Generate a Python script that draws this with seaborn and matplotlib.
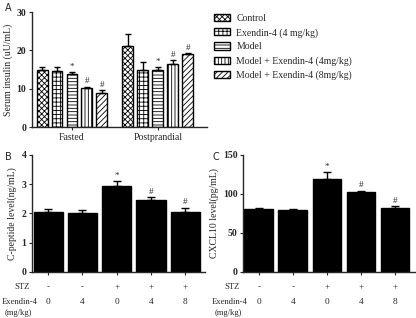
import numpy as np
import pandas as pd
import matplotlib.pyplot as plt
import matplotlib.transforms as mtransforms
import seaborn as sns
from matplotlib.patches import Patch

sns.set_style("ticks")
plt.rcParams['font.family'] = ['Liberation Serif', 'DejaVu Serif']
plt.rcParams['hatch.linewidth'] = 0.6

# Panel A data: serum insulin (mean and SEM)
conditions = ['Control', 'Exendin-4 (4 mg/kg)', 'Model',
              'Model + Exendin-4 (4mg/kg)', 'Model + Exendin-4 (8mg/kg)']
states = ['Fasted', 'Postprandial']
insulin_fasted = [14.8, 14.7, 13.8, 10.3, 9.0]
insulin_fasted_err = [0.8, 1.1, 0.6, 0.3, 0.6]
insulin_post = [21.1, 15.0, 14.8, 16.5, 19.1]
insulin_post_err = [3.1, 2.1, 0.8, 1.0, 0.3]
insulin_marks = ['', '', '*', '#', '#']
hatches = ['xxxxxx', '++++', '-----', '|||||', '//////']

# Panels B and C data
groups = ['Control', 'Exendin-4', 'Model', 'Model+Ex4', 'Model+Ex8']
cpeptide = [2.06, 2.03, 2.93, 2.47, 2.06]
cpeptide_err = [0.09, 0.09, 0.16, 0.08, 0.13]
cxcl10 = [80.6, 79.5, 119.0, 103.0, 82.5]
cxcl10_err = [1.3, 1.2, 9.0, 0.8, 1.5]
marks = ['', '', '*', '#', '#']
stz = ['-', '-', '+', '+', '+']
exendin_dose = ['0', '4', '0', '4', '8']

fig = plt.figure(figsize=(4.16, 3.18), dpi=100)
axA = fig.add_axes([0.077, 0.600, 0.420, 0.362])
axB = fig.add_axes([0.077, 0.145, 0.416, 0.368])
axC = fig.add_axes([0.584, 0.145, 0.413, 0.368])

fs = 7
fs_row = 6.2

# ---- Panel A ----
dfA = pd.DataFrame({
    'state': np.repeat(states, len(conditions)),
    'condition': conditions * 2,
    'value': insulin_fasted + insulin_post,
})
sns.barplot(data=dfA, x='state', y='value', hue='condition', order=states,
            hue_order=conditions, errorbar=None, width=0.87, gap=0.27,
            color='white', edgecolor='black', linewidth=1.0, legend=False, ax=axA)
errsA = [insulin_fasted_err, insulin_post_err]
for i, patch in enumerate(axA.patches):
    ci, gi = divmod(i, 2)
    patch.set_facecolor('white')
    patch.set_hatch(hatches[ci])
    x = patch.get_x() + patch.get_width() / 2
    h = patch.get_height()
    e = errsA[gi][ci]
    axA.errorbar(x, h, yerr=[[0], [e]], fmt='none', ecolor='black',
                 elinewidth=1.0, capsize=2.5, capthick=1.0)
    if insulin_marks[ci]:
        axA.text(x, h + e + 0.3, insulin_marks[ci], ha='center', va='bottom',
                 fontsize=6.5)
axA.set_ylim(0, 30)
axA.set_yticks([0, 10, 20, 30])
axA.set_xlim(-0.465, 1.57)
axA.set_xlabel('')
axA.set_ylabel('Serum insulin (uU/mL)', fontsize=fs, labelpad=3)
axA.tick_params(labelsize=fs, length=2.5, width=0.8, pad=1.5)
for lbl in axA.get_yticklabels():
    lbl.set_fontweight('bold')

handles = [Patch(facecolor='white', edgecolor='black', hatch=h, linewidth=1.0)
           for h in hatches]
fig.legend(handles, conditions, loc='upper left', bbox_to_anchor=(0.505, 0.968),
           frameon=False, fontsize=fs, handlelength=1.6, handleheight=0.75,
           labelspacing=0.5, handletextpad=0.7, borderaxespad=0)


def black_panel(ax, values, errs, ymax, yticks, ylabel, off, left_edge):
    sns.barplot(x=groups, y=values, order=groups, color='black', errorbar=None,
                width=0.85, saturation=1, edgecolor='black', ax=ax)
    for i, patch in enumerate(ax.patches):
        x = patch.get_x() + patch.get_width() / 2
        h = patch.get_height()
        ax.errorbar(x, h, yerr=[[0], [errs[i]]], fmt='none', ecolor='black',
                    elinewidth=1.0, capsize=3, capthick=1.0)
        if marks[i]:
            ax.text(x, h + errs[i] + off, marks[i], ha='center', va='bottom',
                    fontsize=6.5)
    ax.set_ylim(0, ymax)
    ax.set_yticks(yticks)
    ax.set_xlim(-0.47, 4.58)
    ax.set_xticks(range(len(groups)))
    ax.set_xticklabels([])
    ax.set_ylabel(ylabel, fontsize=fs, labelpad=3)
    ax.tick_params(labelsize=fs, length=2.5, width=0.8, pad=1.5)
    for lbl in ax.get_yticklabels():
        lbl.set_fontweight('bold')
    tr = ax.get_xaxis_transform()
    for i in range(len(groups)):
        ax.text(i, -0.13, stz[i], transform=tr, ha='center', va='center',
                fontsize=fs_row + 0.5)
        ax.text(i, -0.255, exendin_dose[i], transform=tr, ha='center',
                va='center', fontsize=fs_row + 0.5)
    ax.text(-0.55, -0.13, 'STZ', transform=tr, ha='right', va='center',
            fontsize=fs_row)
    # row labels start near the left edge of each panel
    trf = mtransforms.blended_transform_factory(fig.transFigure, ax.transAxes)
    ax.text(left_edge, -0.255, 'Exendin-4', transform=trf, ha='left',
            va='center', fontsize=fs_row)
    ax.text(left_edge + 0.041, -0.355, '(mg/kg)', transform=trf, ha='center',
            va='center', fontsize=fs_row)


black_panel(axB, cpeptide, cpeptide_err, 4, [0, 1, 2, 3, 4],
            'C-peptide level(ng/mL)', 0.05, 0.003)
black_panel(axC, cxcl10, cxcl10_err, 150, [0, 50, 100, 150],
            'CXCL10 level(pg/mL)', 2, 0.508)

for ax in (axA, axB, axC):
    sns.despine(ax=ax)
    for s in ('left', 'bottom'):
        ax.spines[s].set_linewidth(1.0)

fig.text(0.012, 0.975, 'A', fontsize=7, family='DejaVu Sans', va='center')
fig.text(0.012, 0.505, 'B', fontsize=7, family='DejaVu Sans', va='center')
fig.text(0.512, 0.505, 'C', fontsize=7, family='DejaVu Sans', va='center')

fig.savefig('out.png', dpi=100)
